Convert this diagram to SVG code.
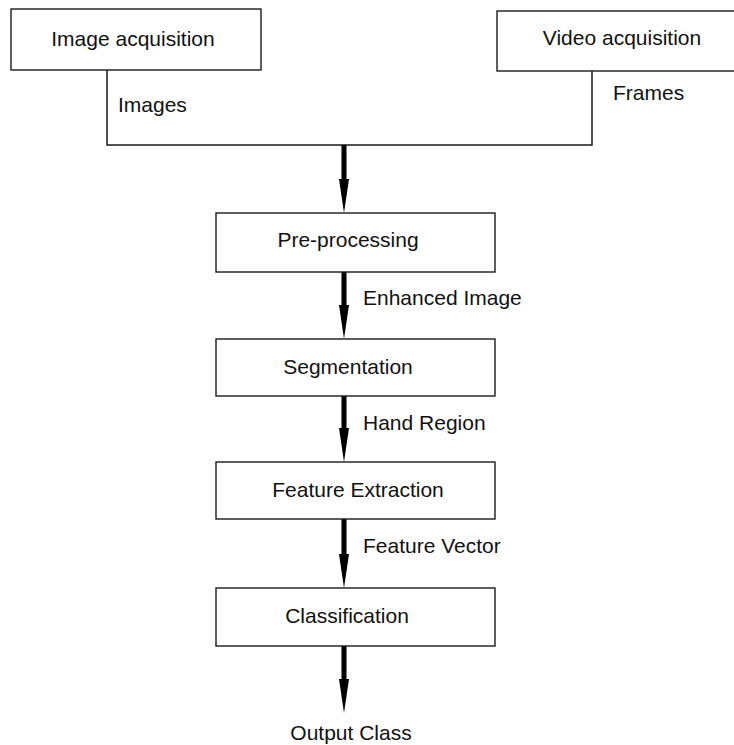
<svg xmlns="http://www.w3.org/2000/svg" width="734" height="745" viewBox="0 0 734 745">
<style>
.box{fill:#fff;stroke:#1a1a1a;stroke-width:1.4}
.t{font-family:"Liberation Sans",Arial,sans-serif;font-size:21px;fill:#111}
.c{text-anchor:middle}
.ln{fill:none;stroke:#1a1a1a;stroke-width:1.5}
.shaft{stroke:#000;stroke-width:5}
.head{fill:#000}
</style>
<rect width="734" height="745" fill="#fff"/>
<g id="connectors">
<polyline class="ln" points="107,70 107,145 592,145 592,71"/>
<line class="shaft" x1="344" y1="145" x2="344" y2="182"/>
<polygon class="head" points="339,179 349,179 344,213"/>
<line class="shaft" x1="344" y1="272" x2="344" y2="308"/>
<polygon class="head" points="339,305 349,305 344,339"/>
<line class="shaft" x1="344" y1="396" x2="344" y2="431"/>
<polygon class="head" points="339,428 349,428 344,462"/>
<line class="shaft" x1="344" y1="519" x2="344" y2="557"/>
<polygon class="head" points="339,554 349,554 344,588"/>
<line class="shaft" x1="344" y1="646" x2="344" y2="682"/>
<polygon class="head" points="339,679 349,679 344,713"/>
<text class="t" x="118" y="112">Images</text>
<text class="t" x="613" y="100">Frames</text>
<text class="t" x="363" y="305">Enhanced Image</text>
<text class="t" x="363" y="430">Hand Region</text>
<text class="t" x="363" y="553">Feature Vector</text>
<text class="t c" x="351" y="740">Output Class</text>
</g>
<g id="image-acquisition">
<rect class="box" x="11" y="9" width="250" height="61"/>
<text class="t c" x="133" y="46">Image acquisition</text>
</g>
<g id="video-acquisition">
<rect class="box" x="497" y="11" width="240" height="60"/>
<text class="t c" x="622" y="45">Video acquisition</text>
</g>
<g id="pre-processing">
<rect class="box" x="216" y="213" width="279" height="59"/>
<text class="t c" x="348" y="247">Pre-processing</text>
</g>
<g id="segmentation">
<rect class="box" x="216" y="339" width="279" height="57"/>
<text class="t c" x="348" y="374">Segmentation</text>
</g>
<g id="feature-extraction">
<rect class="box" x="216" y="462" width="279" height="57"/>
<text class="t c" x="358" y="497">Feature Extraction</text>
</g>
<g id="classification">
<rect class="box" x="216" y="588" width="279" height="58"/>
<text class="t c" x="347" y="623">Classification</text>
</g>
</svg>
